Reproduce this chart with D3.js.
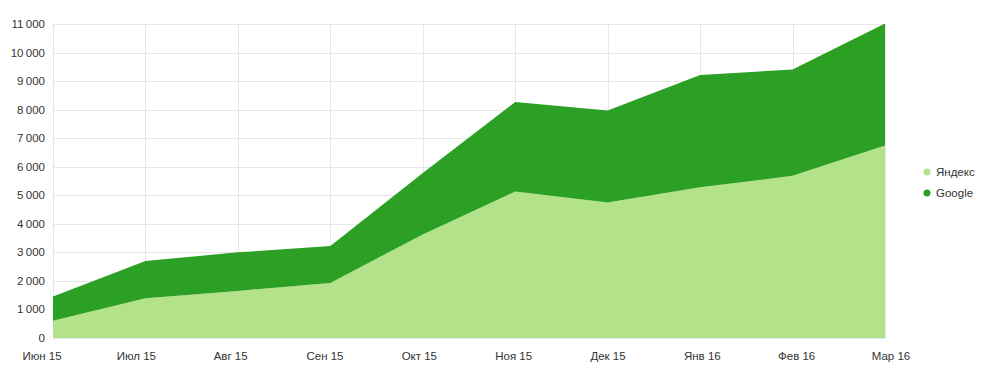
<!DOCTYPE html>
<html>
<head>
<meta charset="utf-8">
<script src="https://cdn.jsdelivr.net/npm/d3@7/dist/d3.min.js"></script>
<style>
  html, body { margin: 0; padding: 0; background: #fff; }
  svg { display: block; font-family: "Liberation Sans", Arial, sans-serif; }
</style>
</head>
<body>
<svg id="chart" width="1000" height="380"></svg>
<script>
const months = ["Июн 15", "Июл 15", "Авг 15", "Сен 15", "Окт 15", "Ноя 15", "Дек 15", "Янв 16", "Фев 16", "Мар 16"];
const yandex = [600, 1390, 1650, 1930, 3630, 5130, 4750, 5280, 5680, 6740];
const google = [850, 1310, 1350, 1290, 2150, 3140, 3220, 3930, 3730, 4280];
const seriesNames = ["Яндекс", "Google"];
const seriesColors = ["#b2e28a", "#2ba024"];
const yTicks = [0, 1000, 2000, 3000, 4000, 5000, 6000, 7000, 8000, 9000, 10000, 11000];

(function () {
const svg = d3.select("#chart");
const pL = 53, pR = 885, pT = 24, pB = 338;

const x = d3.scalePoint().domain(months).range([pL, pR]);
const xLabel = d3.scalePoint().domain(months).range([42, 891]);
const y = d3.scaleLinear().domain([0, 11000]).range([pB, pT]);

const rows = months.map((m, i) => ({ month: m, "Яндекс": yandex[i], "Google": google[i] }));
const stacked = d3.stack().keys(seriesNames)(rows);

// grid
const grid = svg.append("g");
grid.selectAll("line.h").data(yTicks).enter().append("line")
  .attr("x1", pL).attr("x2", pR)
  .attr("y1", d => Math.round(y(d)) + 0.5).attr("y2", d => Math.round(y(d)) + 0.5)
  .attr("stroke", "#e6e6e6").attr("stroke-width", 1);
grid.selectAll("line.v").data(months).enter().append("line")
  .attr("x1", d => Math.round(x(d)) + 0.5).attr("x2", d => Math.round(x(d)) + 0.5)
  .attr("y1", pT).attr("y2", pB)
  .attr("stroke", "#e6e6e6").attr("stroke-width", 1);

// areas
const area = d3.area()
  .x(d => x(d.data.month))
  .y0(d => y(d[0]))
  .y1(d => y(d[1]));
svg.append("g").selectAll("path").data(stacked).enter().append("path")
  .attr("d", area)
  .attr("fill", (d, i) => seriesColors[i]);

// y axis labels
const fmt = v => d3.format(",")(v).replace(/,/g, "\u2009");
svg.append("g").selectAll("text").data(yTicks).enter().append("text")
  .attr("x", 45).attr("y", d => y(d)).attr("dy", "0.35em")
  .attr("text-anchor", "end").attr("font-size", 11.5).attr("fill", "#333")
  .text(d => fmt(d));

// x axis labels
svg.append("g").selectAll("text").data(months).enter().append("text")
  .attr("x", d => xLabel(d)).attr("y", 356).attr("dy", "0.35em")
  .attr("text-anchor", "middle").attr("font-size", 11.5).attr("fill", "#333")
  .text(d => d);

// legend
const legend = svg.append("g").selectAll("g").data(seriesNames).enter().append("g")
  .attr("transform", (d, i) => `translate(927, ${172 + i * 21})`);
legend.append("circle").attr("r", 3.5).attr("fill", (d, i) => seriesColors[i]);
legend.append("text").attr("x", 9).attr("dy", "0.35em")
  .attr("font-size", 11.5).attr("fill", "#333").text(d => d);
})();
</script>
</body>
</html>
